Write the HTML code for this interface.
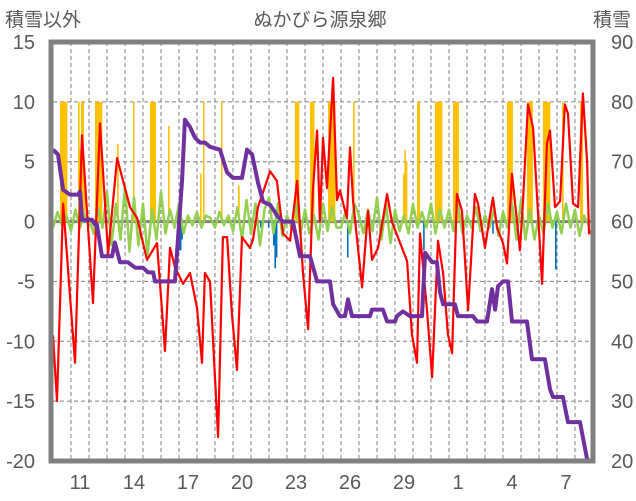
<!DOCTYPE html>
<html><head><meta charset="utf-8">
<style>
html,body{margin:0;padding:0;background:#fff;}
svg{display:block;font-family:"Liberation Sans","Noto Sans CJK JP",sans-serif;}
</style></head>
<body>
<svg id="chart" width="636" height="501" viewBox="0 0 636 501" xmlns="http://www.w3.org/2000/svg">
<text x="5" y="26" font-size="19" fill="#595959">積雪以外</text>
<text x="320" y="26" font-size="19" fill="#595959" text-anchor="middle">ぬかびら源泉郷</text>
<text x="631" y="26" font-size="19" fill="#595959" text-anchor="end">積雪</text>
<g id="grid"></g>
<g id="bars"></g>
<g id="lines"></g>
<g id="axes"></g>
</svg>
<script>
const xLabels=["11","14","17","20","23","26","29","1","4","7"];
const leftTicks=[15,10,5,0,-5,-10,-15,-20];
const rightTicks=[90,80,70,60,50,40,30,20];
const redT=[0,0.22,0.56,1.22,1.61,2.22,2.61,3.06,3.56,4.28,4.67,5.22,5.78,6.22,6.5,6.78,7.22,7.61,8.0,8.28,8.44,8.72,9.17,9.44,9.67,9.94,10.22,10.5,10.94,11.11,11.39,12.06,12.44,12.78,13.17,13.56,13.89,14.17,14.44,14.67,14.83,15.0,15.22,15.56,15.78,15.94,16.33,16.5,16.67,17.17,17.5,17.72,18.06,18.56,18.83,19.67,19.94,20.22,20.39,20.78,21.06,21.39,21.67,21.94,22.17,22.44,22.72,23.06,23.44,23.61,24.0,24.17,24.44,24.67,25.0,25.22,25.5,25.78,25.94,26.11,26.39,26.67,27.17,27.44,27.61,27.89,28.17,28.44,28.61,28.89,29.17,29.44,29.67,29.78,29.94];
const redV=[-9.5,-15,1.5,-11.8,7.2,-6.8,8.2,-2.7,5.3,1.2,0.3,-3.2,-1.8,-10.8,-2.2,-3.8,-5.2,-4.3,-7.2,-11.8,-4.3,-5,-18,-1.3,-1.3,-7.7,-12.4,-1.3,-2.2,-1.5,1.2,4.2,3.4,-1,-1.6,3.4,-4.3,-9,2.6,7.6,0,7,2.8,12,1.8,2.6,0.3,6.2,1.7,-5.5,0.9,-3.2,-2.2,2.3,0,-3.3,-9.4,-11.8,-1,-7.4,-13,-1.6,-4.3,-9.4,-11,2.3,0.9,-7.4,2.3,1.5,-2.2,-0.5,2,-0.5,-1.8,-3.5,4,0,-2.4,1.7,9.8,7.8,-5.2,6.5,7.6,1.2,1.7,9.8,9,1.5,1.2,10.7,5,-1,-0.7];
const snowT=[0,0.28,0.56,0.94,1.39,1.5,1.61,2.17,2.33,2.44,2.72,3.28,3.44,3.72,4.17,4.56,5,5.28,5.56,5.67,6.78,7.17,7.33,7.61,7.89,8.17,8.44,8.72,9.28,9.67,10,10.5,10.78,11.06,11.39,11.67,12.06,12.5,12.78,13.33,13.72,14.28,14.67,15.39,15.56,15.94,16.22,16.39,16.61,17.61,17.72,18.33,18.56,19,19.11,19.44,19.83,20.5,20.67,21.06,21.33,21.5,21.67,22.33,22.5,23.33,23.56,24.11,24.39,24.56,24.72,25,25.28,25.5,26.33,26.61,27.33,27.61,27.78,28.33,28.61,29.28,29.67,29.83];
const snowV=[72,71.2,65.3,64.5,64.5,65,60.3,60.3,59.5,59.5,54.2,54.2,56.5,53.2,53.2,52.3,52.3,51.5,51.5,50,50,67,77,75.8,74,73.2,73.2,72.5,72,68.2,67.3,67.3,72,71.2,66.5,63.3,62.8,60.8,60,60,54.2,54.2,50,50,46.2,44.2,44.2,47,44.2,44.2,45.3,45.3,43.3,43.3,44.2,45,44.2,44.2,54.8,53.2,53.2,48.2,46.2,46.2,44.2,44.2,43.3,43.3,48.7,45.3,49.2,50,50,43.3,43.3,37,37,32,30.7,30.7,26.5,26.5,20.3,20];
const precipT=[0.39,0.47,0.55,0.63,0.71,1.39,1.47,1.55,1.63,1.71,2.33,2.41,2.49,2.57,2.65,3.56,4.44,5.39,5.47,5.55,5.63,6.39,8.17,8.33,9.33,10.28,13.44,13.52,13.6,14.28,14.36,14.44,15.28,15.36,15.44,15.52,15.6,16.67,19.44,19.52,19.6,20.22,20.3,21.22,21.3,21.38,21.46,21.54,22.22,22.3,22.38,22.46,25.22,25.3,25.38,25.46,26.33,26.41,26.49,26.57,27.22,27.3,27.38,27.46,27.54,28.28,29.28,29.36];
const precipV=[10,10,10,10,10,10,6,10,10,3,10,10,10,10,10,6.5,10,10,10,10,10,8,4,10,10,3,10,10,10,10,10,10,10,10,10,10,10,10,4,6,5,10,10,10,10,10,10,10,10,10,10,10,10,10,10,10,10,10,10,10,10,10,10,10,10,10,10,10];
const snowfallT=[6.89,6.97,7.05,7.13,11.5,11.94,12.22,12.3,12.38,16.33,20.56,24.4,27.89];
const snowfallV=[-1,-2.4,-2.4,-1.5,-0.5,-0.5,-2,-3.9,-3,-3,-2.4,-1,-4];
const windV=[-0.5,0.8,-0.3,0.5,-0.8,1,-0.5,0.6,0.3,-1,1.2,-0.5,2.5,-2,1.5,-1.5,3,-2.5,2,-2,1.5,-2.8,1,-1.5,2.5,-1,1,-0.5,1.5,-1,0.5,-0.3,0.8,-0.5,0.5,0.3,-0.5,0.8,-0.3,0.5,-0.8,1.2,-1.5,1.8,-1,1.5,-2,1,2,-1,1.5,-1.2,0.5,-0.5,1.5,-1,1,-1,0.5,-1.5,1.5,-0.8,1.2,-0.5,-0.5,0.8,-1,1.5,0.5,-1,1,-0.8,2,-1.5,1.5,-1.8,1,-0.8,0.5,-1,1.5,-0.5,0.8,-0.5,1.5,-1,1,-0.5,1,-0.8,1.5,-1,0.5,-0.5,1.2,-0.8,0.5,-0.5,1,-1.2,0.8,-0.5,1.5,-1.5,1.8,-1.5,1,-1.5,0.5,-1,1.5,-0.5,0.8,-1,1.5,-0.5,1,-1.2,0.5,-0.3];

const X0=53,X1=593,Y0=42,Y1=461,DAYS=30;
const xs=t=>X0+(X1-X0)*t/DAYS;
const yL=v=>Y0+(15-v)*(Y1-Y0)/35;
const yR=v=>Y0+(90-v)*(Y1-Y0)/70;
const NS="http://www.w3.org/2000/svg";
function mk(tag,attrs,parent){const e=document.createElementNS(NS,tag);for(const k in attrs)e.setAttribute(k,attrs[k]);parent.appendChild(e);return e;}
const grid=document.getElementById('grid'),bars=document.getElementById('bars'),lines=document.getElementById('lines'),axes=document.getElementById('axes');

for(let d=1;d<DAYS;d++){
  const l=mk('line',{x1:xs(d),x2:xs(d),y1:Y0,y2:Y1,stroke:'#808080','stroke-width':1,'stroke-dasharray':'4,3'},grid);
  
  
}
leftTicks.forEach(v=>{
  if(v===0||v===15||v===-20)return;
  const l=mk('line',{x1:X0,x2:X1,y1:yL(v),y2:yL(v),stroke:'#808080','stroke-width':1,'stroke-dasharray':'4,3'},grid);
  
  
});

precipT.forEach((t,i)=>{
  const y=yL(Math.min(precipV[i],10));
  const r=mk('rect',{x:xs(t),y:y,width:1.6,height:yL(0)-y,fill:'#ffc000'},bars);
  
  
});
snowfallT.forEach((t,i)=>{
  const r=mk('rect',{x:xs(t),y:yL(0),width:1.6,height:yL(snowfallV[i])-yL(0),fill:'#0070c0'},bars);
  
  
});

const zl=mk('line',{x1:X0,x2:X1,y1:yL(0),y2:yL(0),stroke:'#808080','stroke-width':3},grid);



const gp=windV.map((v,i)=>xs(i*DAYS/windV.length).toFixed(1)+','+yL(v).toFixed(1)).join(' ');
const g=mk('polyline',{points:gp,fill:'none',stroke:'#92d050','stroke-width':2.5,'stroke-linejoin':'round'},lines);



const rp=redT.map((t,i)=>xs(t).toFixed(1)+','+yL(redV[i]).toFixed(1)).join(' ');
const r=mk('polyline',{points:rp,fill:'none',stroke:'#ff0000','stroke-width':2.2,'stroke-linejoin':'round'},lines);



const sp=snowT.map((t,i)=>xs(t).toFixed(1)+','+yR(snowV[i]).toFixed(1)).join(' ');
const s=mk('polyline',{points:sp,fill:'none',stroke:'#7030a0','stroke-width':4,'stroke-linejoin':'round'},lines);



const fr=mk('rect',{x:X0-2,y:Y0,width:X1-X0+2,height:Y1-Y0,fill:'none',stroke:'#808080','stroke-width':5},axes);



leftTicks.forEach(v=>{
  const t=mk('text',{x:35,y:yL(v)+7,'font-size':20,fill:'#595959','text-anchor':'end'},axes);
  t.textContent=v;
  
  
});
rightTicks.forEach(v=>{
  const t=mk('text',{x:611,y:yR(v)+7,'font-size':20,fill:'#595959'},axes);
  t.textContent=v;
  
  
});
xLabels.forEach((lab,i)=>{
  const t=mk('text',{x:xs(1.5+3*i),y:489,'font-size':20,fill:'#595959','text-anchor':'middle'},axes);
  t.textContent=lab;
  
  
});
</script>
</body></html>
